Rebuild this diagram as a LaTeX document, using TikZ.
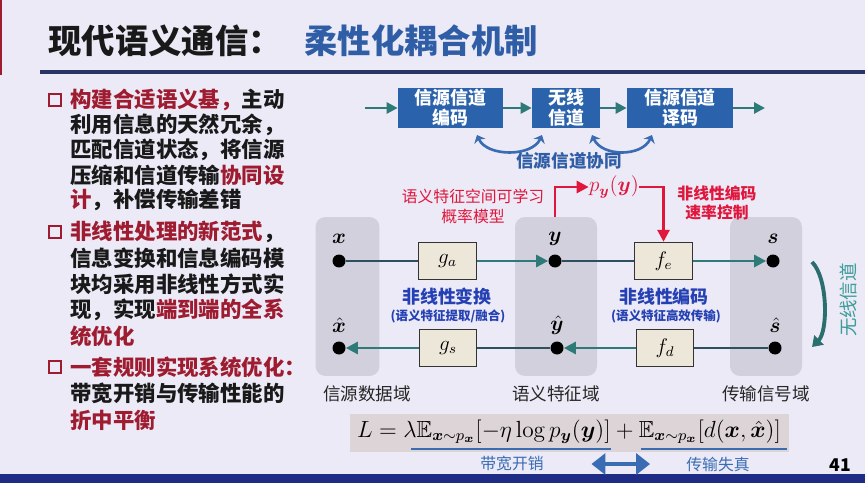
\documentclass[tikz,border=0pt]{standalone}
\usepackage{fontspec}
\usepackage{graphicx}
\usepackage{amsmath,amssymb,bm}
\usetikzlibrary{arrows.meta,positioning}
\newfontfamily\cjk{Noto Sans CJK SC}
\definecolor{bgc}{HTML}{EBEAF6}
\definecolor{navy}{HTML}{2A3566}
\definecolor{barc}{HTML}{1F2C86}
\definecolor{maroon}{HTML}{9E1B30}
\definecolor{ttlblue}{HTML}{2F5DA6}
\definecolor{blkblue}{HTML}{2A62AC}
\definecolor{flowc}{HTML}{2E7A78}
\definecolor{flowd}{HTML}{2D4F5E}
\definecolor{panelc}{HTML}{D2D0DC}
\definecolor{boxc}{HTML}{EDE7DA}
\definecolor{hotred}{HTML}{E0163C}
\definecolor{lblblue}{HTML}{2440B4}
\definecolor{lossblue}{HTML}{3A6CB4}
\definecolor{chanc}{HTML}{2A6E6E}
\definecolor{chantxt}{HTML}{3C9C9A}
\definecolor{lossbg}{HTML}{DDD4D8}
\tikzset{every node/.style={inner sep=0pt},
  bodytxt/.style={anchor=west, font=\cjk\bfseries\fontsize{12.2}{14}\selectfont, text=black!90},
  tick/.style={draw=maroon, line width=1.3pt, minimum size=0.25cm},
  blk/.style={fill=blkblue, text=white, align=center, minimum height=0.8cm, font=\cjk\bfseries\fontsize{10.2}{11.4}\selectfont},
  topflow/.style={draw=flowc, line width=1.5pt, -{Triangle[length=0.22cm,width=0.22cm]}},
  sync/.style={draw=lossblue, line width=1.5pt, {Stealth[length=4pt,width=7pt]}-{Stealth[length=4pt,width=7pt]}},
  dom/.style={fill=panelc, rounded corners=0.2cm},
  pt/.style={circle, fill=black, minimum size=0.26cm},
  fbox/.style={draw=black!80, fill=boxc, line width=0.8pt, minimum width=1.15cm, minimum height=0.74cm, font=\fontsize{12}{14}\selectfont},
  lnk/.style={draw=flowd, line width=1.6pt},
  flow/.style={draw=flowc, line width=1.6pt, -{Triangle[length=0.24cm,width=0.24cm]}},
  hot/.style={draw=hotred, line width=1.6pt, -{Triangle[length=0.24cm,width=0.24cm]}},
  redtxt/.style={text=hotred, font=\cjk\fontsize{9}{10}\selectfont},
  bluetxt/.style={text=lblblue, font=\cjk\bfseries\fontsize{10.2}{12}\selectfont},
  smallblue/.style={text=lblblue, font=\cjk\bfseries\fontsize{7.1}{8}\selectfont},
  domtxt/.style={font=\cjk\fontsize{10}{12}\selectfont, text=black!85},
  mlab/.style={font=\fontsize{12}{14}\selectfont}}

\begin{document}
\begin{tikzpicture}[x=0.02cm, y=-0.02cm]
   \fill[bgc] (0,0) rectangle (865,483);
   \fill[maroon] (0,0) rectangle (2,75);
   \fill[barc] (0,474) rectangle (865,483);
   % title
   \node[anchor=west, font=\cjk\bfseries\fontsize{19}{22}\selectfont, text=black!90] (ttl) at (48,41) {现代语义通信：};
   \node[anchor=west, font=\cjk\bfseries\fontsize{19}{22}\selectfont, text=ttlblue] (ttl2) at (304,41) {柔性化耦合机制};
   \fill[navy] (40,70) rectangle (865,74);
   % left column
   \node[tick] (t1) at (55,100) {};
   \node[bodytxt] (l1) at (70,100) {\textcolor{maroon}{构建合适语义基，}主动};
   \node[bodytxt] (l2) at (70,125) {利用信息的天然冗余，};
   \node[bodytxt] (l3) at (70,150) {匹配信道状态，将信源};
   \node[bodytxt] (l4) at (70,175) {压缩和信道传输\textcolor{maroon}{协同设}};
   \node[bodytxt] (l5) at (70,200) {\textcolor{maroon}{计}，补偿传输差错};
   \node[tick] (t2) at (55,232) {};
   \node[bodytxt] (l6) at (70,232) {\textcolor{maroon}{非线性处理的新范式}，};
   \node[bodytxt] (l7) at (70,258) {信息变换和信息编码模};
   \node[bodytxt] (l8) at (70,284) {块均采用非线性方式实};
   \node[bodytxt] (l9) at (70,310) {现，实现\textcolor{maroon}{端到端的全系}};
   \node[bodytxt] (l10) at (70,336) {\textcolor{maroon}{统优化}};
   \node[tick] (t3) at (55,367) {};
   \node[bodytxt] (l11) at (70,367) {\textcolor{maroon}{一套规则实现系统优化：}};
   \node[bodytxt] (l12) at (70,393) {带宽开销与传输性能的};
   \node[bodytxt] (l13) at (70,420) {\textcolor{maroon}{折中平衡}};
   % classic chain
   \node[blk, minimum width=2.1cm] (b1) at (450.5,108) {信源信道\\编码};
   \node[blk, minimum width=1.36cm] (b2) at (566,108) {无线\\信道};
   \node[blk, minimum width=2.12cm] (b3) at (680,108) {信源信道\\译码};
   \coordinate (cin) at (365,108);
   \coordinate (cout) at (765,108);
   \draw[topflow] (cin) -- (b1);
   \draw[topflow] (b1) -- (b2);
   \draw[topflow] (b2) -- (b3);
   \draw[topflow] (b3) -- (cout);
   \coordinate (s1a) at (477,135);
   \coordinate (s1b) at (542,135);
   \coordinate (s2a) at (592,135);
   \coordinate (s2b) at (652,135);
   \draw[sync] (s1a) .. controls (487,157) and (532,157) .. (s1b);
   \draw[sync] (s2a) .. controls (602,157) and (642,157) .. (s2b);
   \node[text=ttlblue, font=\cjk\bfseries\fontsize{10}{12}\selectfont] (syn) at (569,161) {信源信道协同};
   % domains
   \node[dom, minimum width=1.28cm, minimum height=3.18cm] (d1) at (347.5,296.5) {};
   \node[dom, minimum width=1.64cm, minimum height=3.18cm] (d2) at (556,296.5) {};
   \node[dom, minimum width=1.44cm, minimum height=3.18cm] (d3) at (766,296.5) {};
   \node[domtxt] (n1) at (367,394) {信源数据域};
   \node[domtxt] (n2) at (556,394) {语义特征域};
   \node[domtxt] (n3) at (766,394) {传输信号域};
   \node[pt] (xd) at (339,261) {};
   \node[pt] (yd) at (555,261) {};
   \node[pt] (sd) at (773,261) {};
   \node[pt] (xh) at (339,348) {};
   \node[pt] (yh) at (557,348) {};
   \node[pt] (sh) at (775,348) {};
   \node[mlab] (xl) at (339,239) {$\boldsymbol{x}$};
   \node[mlab] (yl) at (555,239) {$\boldsymbol{y}$};
   \node[mlab] (sl) at (773,239) {$\boldsymbol{s}$};
   \node[mlab] (xhl) at (339,325) {$\hat{\boldsymbol{x}}$};
   \node[mlab] (yhl) at (557,325) {$\hat{\boldsymbol{y}}$};
   \node[mlab] (shl) at (775,325) {$\hat{\boldsymbol{s}}$};
   \node[fbox] (ga) at (447.5,261) {$g_a$};
   \node[fbox] (fe) at (663.5,261) {$f_e$};
   \node[fbox] (gs) at (448,348) {$g_s$};
   \node[fbox] (fd) at (665,348) {$f_d$};
   \draw[lnk] (xd) -- (ga);
   \draw[flow] (ga) -- (yd);
   \draw[lnk] (yd) -- (fe);
   \draw[flow] (fe) -- (sd);
   \draw[lnk] (sh) -- (fd);
   \draw[flow] (fd) -- (yh);
   \draw[lnk] (yh) -- (gs);
   \draw[flow] (gs) -- (xh);
   \node[bluetxt] (nt) at (447,297) {非线性变换};
   \node[smallblue] (ntx) at (448,316) {(语义特征提取/融合)};
   \node[bluetxt] (nc) at (664,297) {非线性编码};
   \node[smallblue] (ncx) at (666,316) {(语义特征高效传输)};
   % learned prior
   \node[text=hotred, font=\fontsize{12}{14}\selectfont] (py) at (614,187) {$p_{\boldsymbol{y}}(\boldsymbol{y})$};
   \draw[hot] (d2.north -| yd) |- (py);
   \draw[hot] (py) -| (fe);
   \node[redtxt] (r1) at (473,196) {语义特征空间可学习};
   \node[redtxt] (r2) at (473,216) {概率模型};
   \node[redtxt, font=\cjk\bfseries\fontsize{9}{10}\selectfont] (r3) at (717,193) {非线性编码};
   \node[redtxt, font=\cjk\bfseries\fontsize{9}{10}\selectfont] (r4) at (717,212) {速率控制};
   % wireless channel
   \coordinate (ch1) at (812,262);
   \coordinate (ch2) at (812,347);
   \draw[draw=chanc, line width=2.2pt, -{Triangle[length=0.2cm,width=0.26cm]}] (ch1) .. controls +(16,16) and +(16,-16) .. (ch2);
   \node[rotate=90, text=chantxt, font=\cjk\fontsize{10.5}{12}\selectfont] (cht) at (848,300) {无线信道};
   % loss
   \node[fill=lossbg, minimum width=8.78cm, minimum height=0.76cm] (lossbg) at (569.5,433) {};
   \node[font=\fontsize{12}{14}\selectfont] (loss) at (569,432) {\scalebox{1.107}{$L=\lambda\mathbb{E}_{\boldsymbol{x}\sim p_{\boldsymbol{x}}}[-\eta\log p_{\boldsymbol{y}}(\boldsymbol{y})]+\mathbb{E}_{\boldsymbol{x}\sim p_{\boldsymbol{x}}}[d(\boldsymbol{x},\hat{\boldsymbol{x}})]$}};
   \draw[draw=lossblue, line width=1.1pt] (411,449) -- (611,449);
   \draw[draw=lossblue, line width=1.1pt] (641,449) -- (787,449);
   \node[text=lossblue, font=\cjk\fontsize{9}{11}\selectfont] (bw) at (512,464) {带宽开销};
   \node[text=lossblue, font=\cjk\fontsize{9}{11}\selectfont] (ds) at (718,464) {传输失真};
   \draw[draw=lossblue, line width=2.8pt, {Triangle[length=0.28cm,width=0.42cm]}-{Triangle[length=0.28cm,width=0.42cm]}] ([xshift=0.95cm]bw.east) -- ([xshift=-0.72cm]ds.west);
   \node[font=\cjk\bfseries\fontsize{10}{12}\selectfont] (pg) at (840,465) {41};
\end{tikzpicture}
\end{document}
